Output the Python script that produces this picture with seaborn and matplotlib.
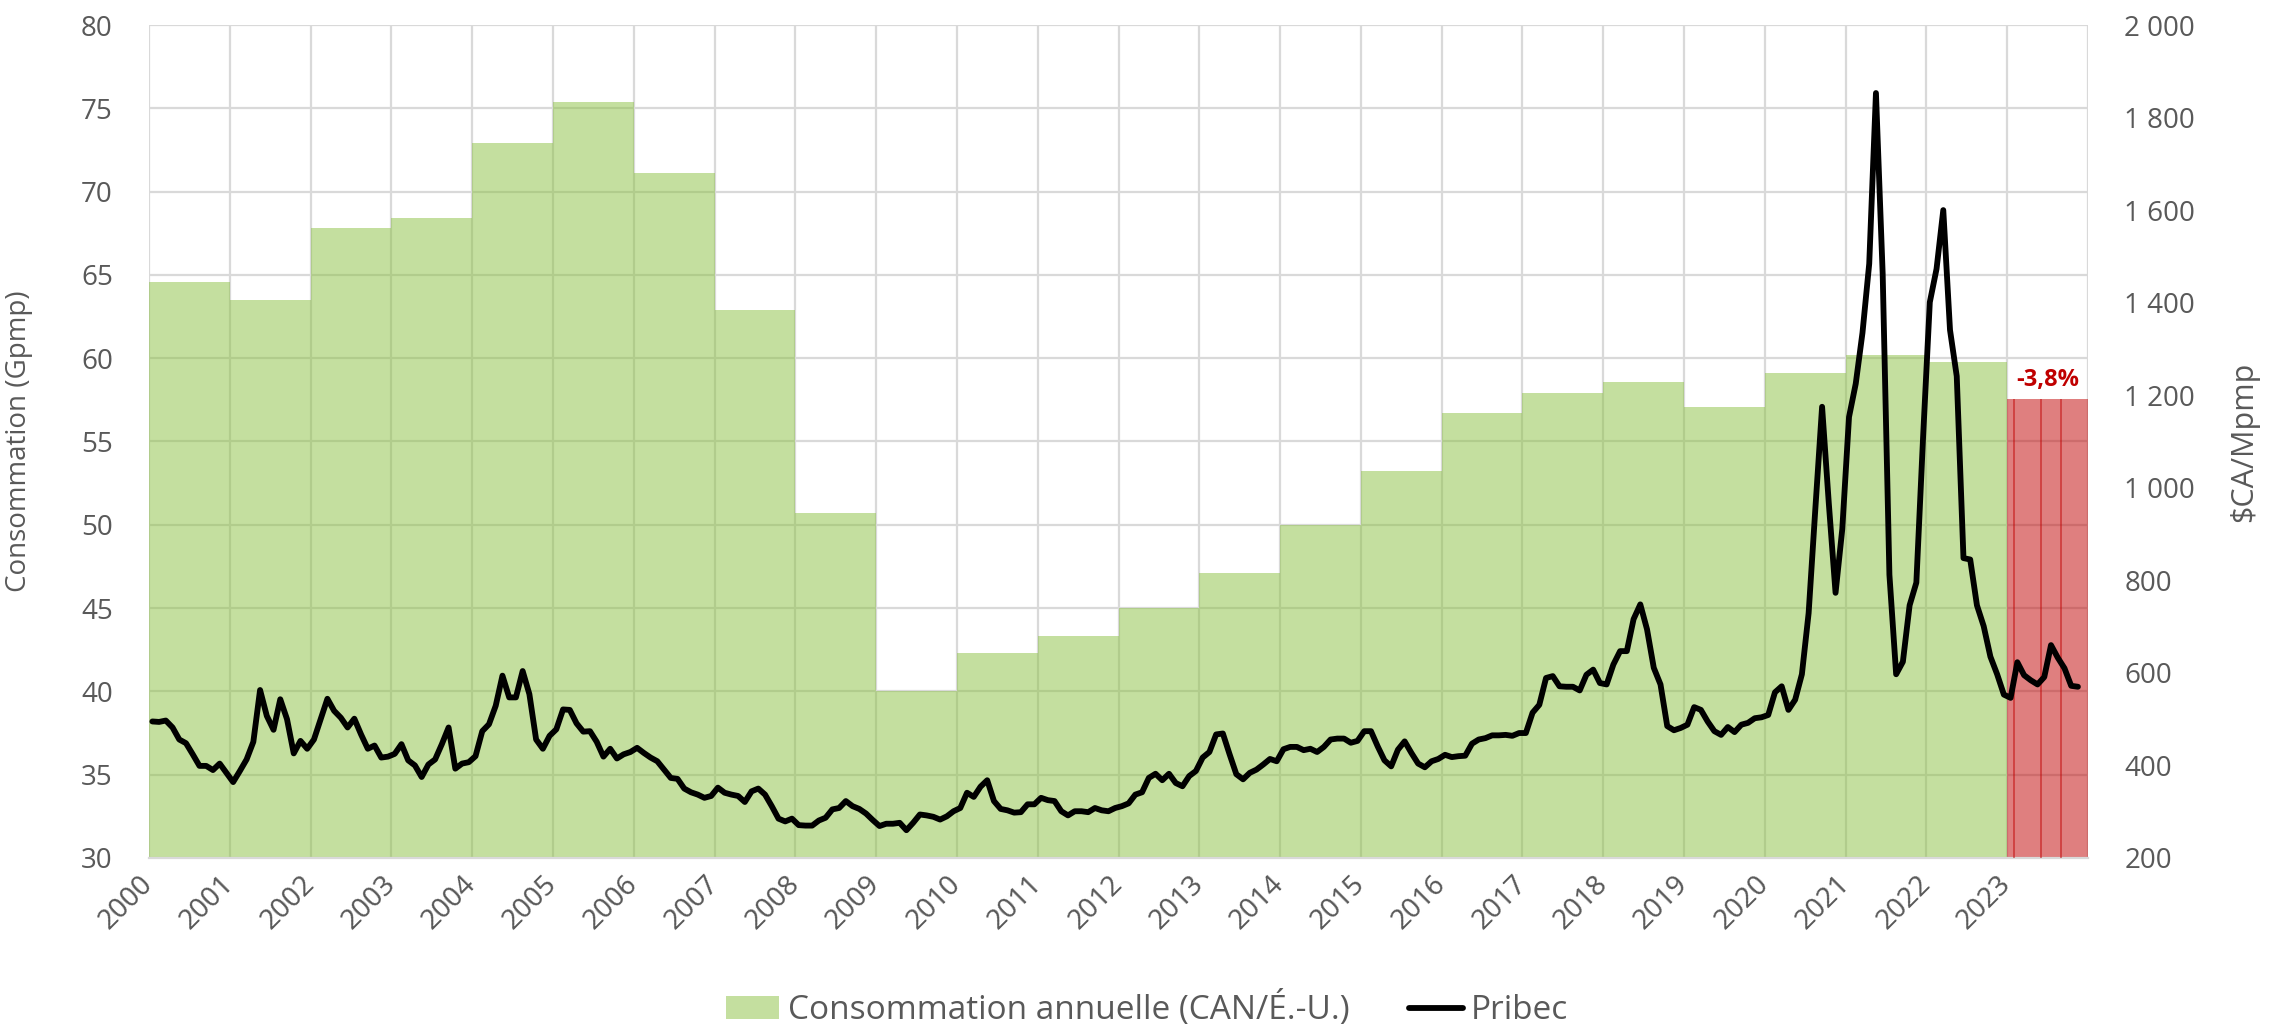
import numpy as np
import pandas as pd
import seaborn as sns
import matplotlib.pyplot as plt
from matplotlib.patches import Patch
from matplotlib.lines import Line2D
from matplotlib.ticker import FuncFormatter

years = list(range(2000, 2024))
consommation = [64.6, 63.5, 67.8, 68.4, 72.9, 75.4, 71.1, 62.9, 50.7, 40.0,
                42.3, 43.3, 45.0, 47.1, 50.0, 53.2, 56.7, 57.9, 58.6, 57.1,
                59.1, 60.2, 59.8, 57.55]

# Pribec, $CA/Mpmp, monthly from Jan 2000
pribec = [
    495, 494, 497, 482, 456, 448, 424, 399, 399, 390, 404, 384,        # 2000
    364, 388, 413, 451, 563, 507, 477, 543, 500, 426, 453, 436,        # 2001
    456, 500, 544, 518, 503, 482, 501, 467, 436, 443, 417, 419,        # 2002
    425, 446, 411, 400, 375, 402, 413, 446, 482, 393, 404, 407,        # 2003
    420, 474, 489, 529, 594, 547, 547, 604, 554, 456, 436, 464,        # 2004
    478, 521, 520, 491, 473, 474, 451, 419, 436, 415, 424, 429,        # 2005
    438, 427, 417, 409, 391, 373, 371, 350, 342, 337, 330, 334,        # 2006
    352, 341, 337, 334, 321, 344, 350, 337, 312, 285, 279, 285,        # 2007
    271, 270, 270, 281, 287, 305, 308, 323, 312, 306, 296, 282,        # 2008
    269, 274, 274, 276, 260, 276, 294, 292, 289, 283, 290, 301,        # 2009
    308, 341, 332, 354, 368, 323, 306, 303, 298, 299, 316, 316,        # 2010
    330, 325, 323, 301, 292, 301, 301, 299, 308, 303, 301, 308,        # 2011
    312, 318, 337, 342, 373, 382, 368, 382, 362, 355, 377, 388,        # 2012
    417, 429, 467, 469, 424, 381, 370, 384, 391, 402, 414, 409,        # 2013
    435, 440, 440, 433, 436, 429, 440, 456, 458, 458, 449, 453,        # 2014
    474, 474, 441, 411, 398, 434, 452, 427, 404, 396, 409, 414,        # 2015
    423, 418, 420, 421, 447, 456, 459, 465, 465, 466, 464, 470,        # 2016
    470, 514, 531, 589, 593, 571, 570, 570, 562, 596, 607, 578,        # 2017
    575, 618, 647, 647, 716, 748, 694, 611, 575, 485, 476, 481,        # 2018
    488, 526, 520, 495, 474, 466, 483, 472, 488, 492, 502, 504,        # 2019
    509, 558, 571, 520, 542, 597, 729, 955, 1175, 966, 773, 911,       # 2020
    1153, 1225, 1335, 1484, 1853, 1462, 812, 597, 624, 746, 795, 1109,  # 2021
    1401, 1473, 1600, 1341, 1241, 848, 845, 746, 701, 635, 597, 553,   # 2022
    546, 623, 595, 584, 575, 591, 660, 633, 610, 572, 570,             # 2023
]
red_split_months = [1, 5, 8]

GREEN = '#8BC141'
RED = '#C00000'
GREY = '#595959'

sns.set_theme(style='white')
plt.rcParams['font.family'] = ['Open Sans', 'DejaVu Sans']

fig = plt.figure(figsize=(22.85, 10.29), dpi=100)
fig.subplots_adjust(left=0.0652, right=0.9138, bottom=0.1662, top=0.9757)
ax = fig.add_subplot(111)

df = pd.DataFrame({'annee': years, 'consommation': consommation})
colors = [GREEN] * (len(years) - 1) + [RED]
ax.bar(df['annee'], df['consommation'], width=1, align='edge',
       color=colors, alpha=0.5, linewidth=0, zorder=2)
ax.vlines([years[-1] + m / 12 for m in red_split_months], 30, consommation[-1],
          color=RED, lw=1.2, alpha=0.55, zorder=3)

change = (consommation[-1] / consommation[-2] - 1) * 100
ax.annotate(f'{change:.1f}%'.replace('.', ','), (years[-1] + 0.5, consommation[-1]),
            xytext=(0, 5), textcoords='offset points', ha='center', va='bottom',
            color=RED, fontweight='bold', fontsize=17, zorder=5)

ax.set_axisbelow(True)
ax.grid(True, color='#d9d9d9', lw=1.6)
ax.set_ylabel('Consommation (Gpmp)', fontsize=20, color=GREY)
ax.yaxis.set_label_coords(-0.060, 0.5)
for side in ['top', 'left', 'right']:
    ax.spines[side].set_visible(False)
ax.spines['bottom'].set_color('#d9d9d9')
ax.spines['bottom'].set_linewidth(1.6)

ax2 = ax.twinx()
dates = 2000 + (np.arange(len(pribec)) + 0.5) / 12
sns.lineplot(x=dates, y=pribec, ax=ax2, color='black', lw=4.2, legend=False)
for line in ax2.get_lines():
    line.set_solid_joinstyle('round')
    line.set_solid_capstyle('round')
ax2.set(ylim=(200, 2000), yticks=range(200, 2001, 200))
ax2.yaxis.set_major_formatter(FuncFormatter(lambda v, _: f'{v:,.0f}'.replace(',', ' ')))
ax2.tick_params(axis='y', length=0, pad=26, labelsize=20, colors=GREY)
ax2.set_ylabel('$CA/Mpmp', fontsize=22, color=GREY, rotation=90)
ax2.yaxis.set_label_coords(1.073, 0.5)
ax2.grid(False)
for side in ax2.spines:
    ax2.spines[side].set_visible(False)

ax.set(xlim=(2000, 2024), ylim=(30, 80), yticks=range(30, 81, 5))
ax.set_xticks(range(2000, 2025))
ax.set_xticklabels([str(y) for y in years] + [''], rotation=45, ha='right',
                   va='center', rotation_mode='anchor',
                   family=['Noto Sans', 'DejaVu Sans'])
ax.tick_params(axis='x', length=0, pad=16, labelsize=20, colors=GREY)
ax.tick_params(axis='y', length=0, pad=26, labelsize=20, colors=GREY)

handles = [Patch(facecolor=GREEN, alpha=0.5, linewidth=0),
           Line2D([0], [0], color='black', lw=4.2)]
fig.legend(handles, ['Consommation annuelle (CAN/É.-U.)', 'Pribec'],
           loc='center', bbox_to_anchor=(0.502, 0.019), ncol=2, frameon=False,
           fontsize=24, handlelength=1.6, handletextpad=0.25, columnspacing=1.8,
           labelcolor=GREY)

fig.savefig('out.png', dpi=100)
